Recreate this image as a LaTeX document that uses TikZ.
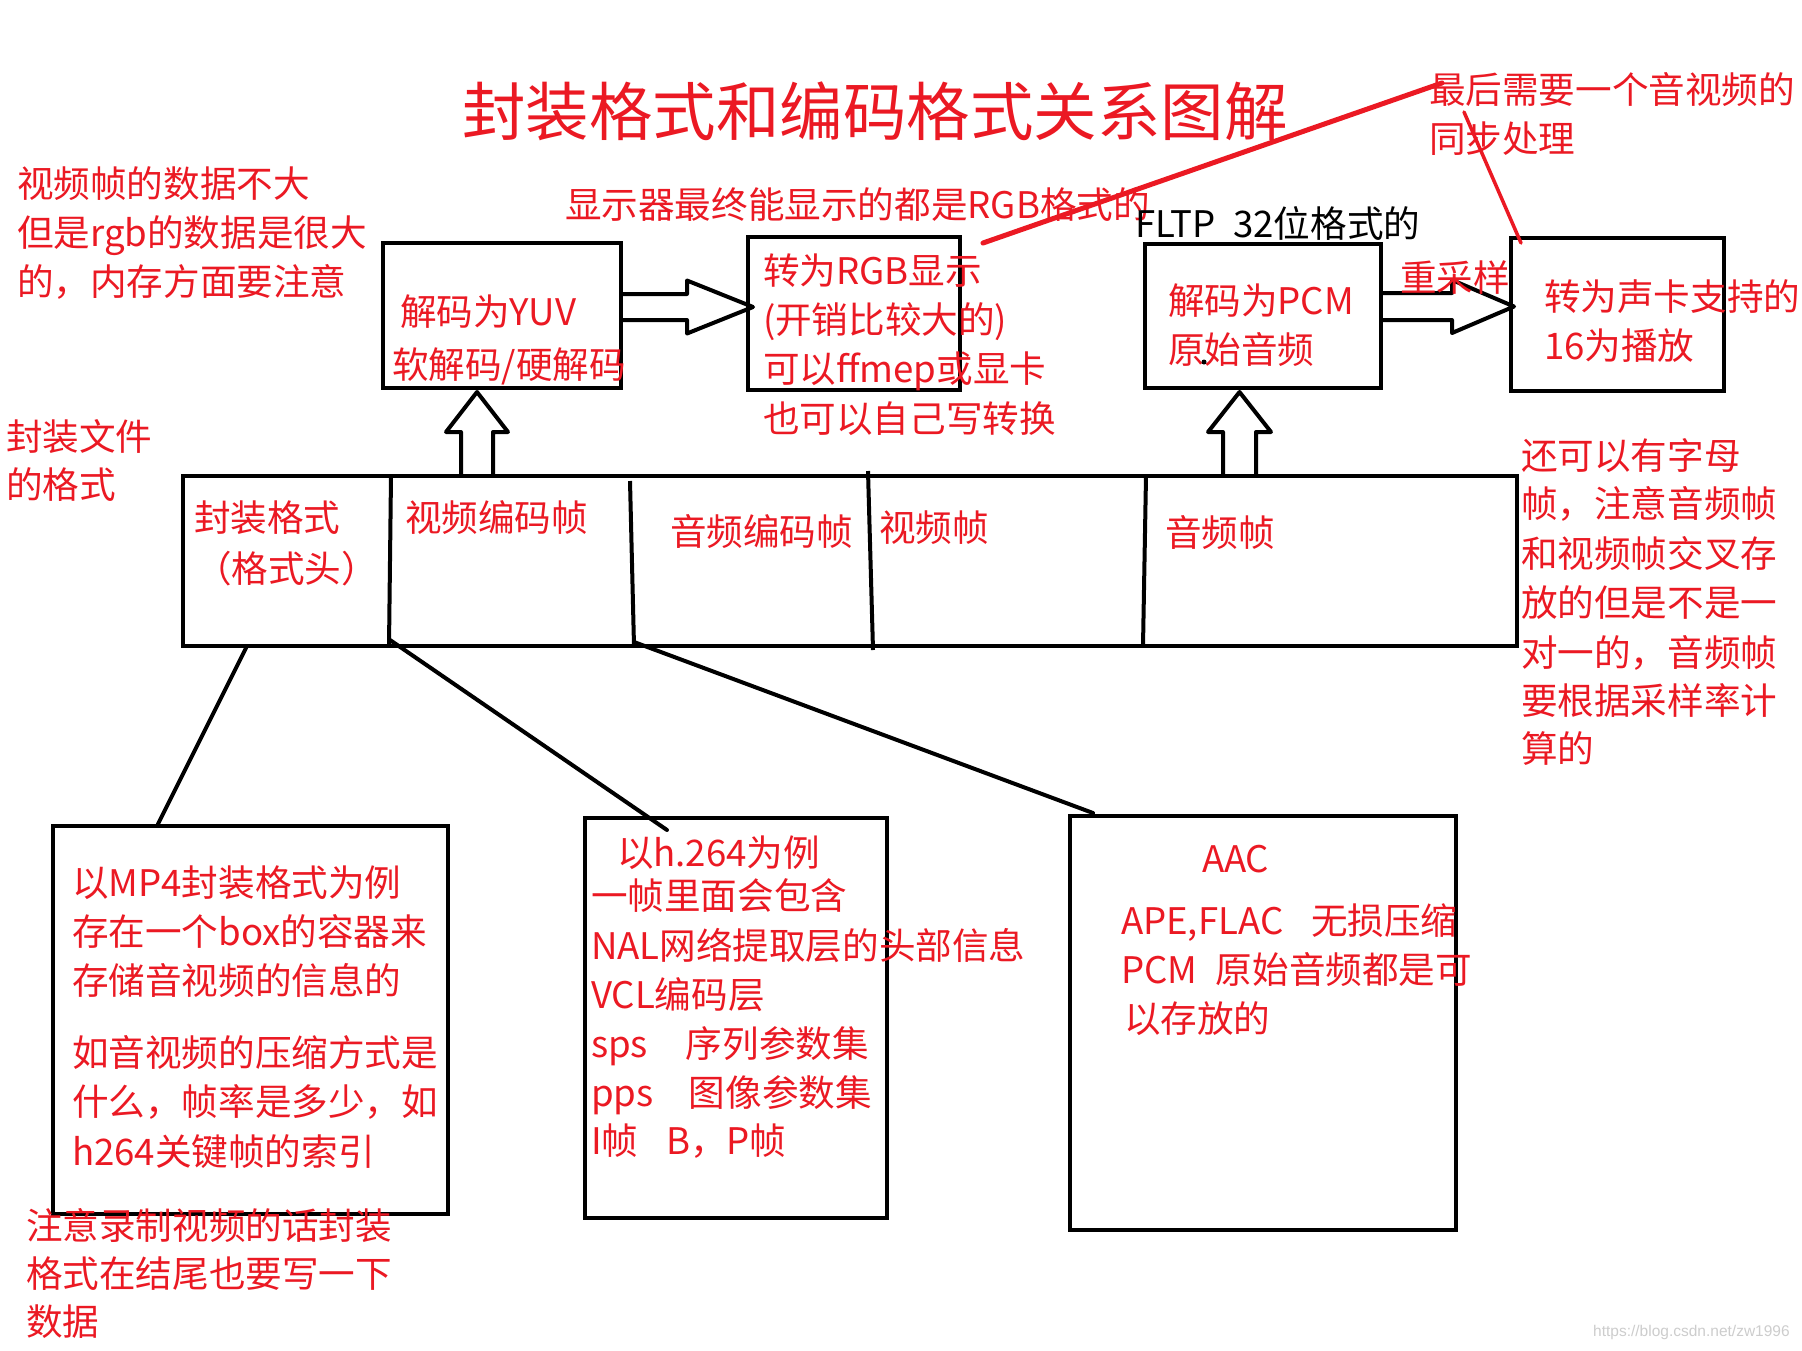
\documentclass[tikz,border=0pt]{standalone}
\usepackage{fontspec}
\newfontfamily\cjk{Noto Sans CJK SC}
\newfontfamily\wmfont{Liberation Sans}
\usetikzlibrary{calc}
\definecolor{mred}{RGB}{235,25,35}
\definecolor{wmgray}{RGB}{205,205,205}
\tikzset{
  box/.style={draw=black, line width=4.5pt, inner sep=0pt, outer sep=0pt},
  txt/.style={anchor=base west, inner sep=0pt, outer sep=0pt, text=mred,
              font=\cjk\fontsize{36.6}{40}\selectfont},
  btxt/.style={txt, text=black},
  titletxt/.style={anchor=base west, inner sep=0pt, text=mred,
              font=\cjk\fontsize{63.5}{70}\selectfont},
  conn/.style={draw=black, line width=4pt, line cap=round},
  divider/.style={draw=black, line width=4pt},
  hollow/.style={draw=black, line width=4pt, line join=round},
  redline/.style={draw=mred, line width=5pt, line cap=round},
  wm/.style={anchor=base west, inner sep=0pt, text=wmgray,
             font=\wmfont\fontsize{15.5}{16}\selectfont}
}
% hollow arrow pointing right: #1 start, #2 tip, #3 shaft half, #4 head half, #5 head length
\newcommand\hollowright[5]{%
  \draw[hollow] ($(#1)+(0,-#3)$) -- ($(#2)+(-#5,-#3)$) -- ($(#2)+(-#5,-#4)$) -- (#2)
    -- ($(#2)+(-#5,#4)$) -- ($(#2)+(-#5,#3)$) -- ($(#1)+(0,#3)$);}
% hollow arrow pointing up (y grows downward here)
\newcommand\hollowup[5]{%
  \draw[hollow] ($(#1)+(-#3,0)$) -- ($(#2)+(-#3,#5)$) -- ($(#2)+(-#4,#5)$) -- (#2)
    -- ($(#2)+(#4,#5)$) -- ($(#2)+(#3,#5)$) -- ($(#1)+(#3,0)$);}
\begin{document}
\begin{tikzpicture}[x=1pt,y=-1pt]
\useasboundingbox (0,0) rectangle (1802,1350);
\fill[white] (0,0) rectangle (1802,1350);

% ---------- boxes ----------
\node[box, minimum width=238pt, minimum height=145pt] (yuv) at (502,315.5) {};
\node[box, minimum width=212pt, minimum height=153pt] (rgb) at (854,313.5) {};
\node[box, minimum width=236pt, minimum height=144pt] (pcm) at (1263,316) {};
\node[box, minimum width=213pt, minimum height=153pt] (snd) at (1617.5,314.5) {};
\node[box, minimum width=1334pt, minimum height=170pt] (bar) at (850,561) {};
\node[box, minimum width=395pt, minimum height=388pt] (mp4) at (250.5,1020) {};
\node[box, minimum width=302pt, minimum height=400pt] (h264) at (736,1018) {};
\node[box, minimum width=386pt, minimum height=414pt] (aac) at (1263,1023) {};

% dividers of the frame bar
\draw[divider] ($(bar.north west)+(208,0)$) -- ($(bar.south west)+(206,0)$);
\draw[divider] ($(bar.north west)+(447,5)$) -- ($(bar.south west)+(451,0)$);
\draw[divider] ($(bar.north west)+(685,-5)$) -- ($(bar.south west)+(690,4)$);
\draw[divider] ($(bar.north west)+(963,0)$) -- ($(bar.south west)+(960,0)$);

% ---------- hollow arrows ----------
\coordinate (ar1s) at ($(yuv.east)+(0,-8.5)$);
\coordinate (ar1t) at ($(rgb.west |- ar1s)+(5,0)$);
\hollowright{ar1s}{ar1t}{13}{26.5}{66}
\coordinate (ar2s) at ($(pcm.east)+(0,-9.5)$);
\coordinate (ar2t) at ($(snd.west |- ar2s)+(3,0)$);
\hollowright{ar2s}{ar2t}{13.5}{26.5}{62}
\coordinate (au1s) at ($(bar.north west)+(294,0)$);
\coordinate (au1t) at ($(yuv.south)+(-25,4)$);
\hollowup{au1s}{au1t}{16}{31}{40}
\coordinate (au2s) at ($(bar.north west)+(1056.5,0)$);
\coordinate (au2t) at ($(pcm.south)+(-23.5,4)$);
\hollowup{au2s}{au2t}{16.5}{31.5}{40}

% ---------- connectors from the bar ----------
\draw[conn] ($(bar.south west)+(64,0)$) -- ($(mp4.north west)+(105,-2)$);
\draw[conn] ($(bar.south west)+(207,-6)$) -- ($(h264.north west)+(82,12)$);
\draw[conn] ($(bar.south west)+(451,-4)$) -- ($(aac.north west)+(23,-3)$);

% ---------- title ----------
\node[titletxt] (title) at (462,135) {封装格式和编码格式关系图解};

% ---------- texts ----------
\node[txt] (n1a) at (17,197) {视频帧的数据不大};
\node[txt] (n1b) at (17,246) {但是rgb的数据是很大};
\node[txt] (n1c) at (17,295) {的，内存方面要注意};

\node[txt] (disp) at (565,218) {显示器最终能显示的都是RGB格式的};

\node[txt] (yuv1) at (400,325) {解码为YUV};
\node[txt] (yuv2) at (392,378) {软解码/硬解码};

\node[txt] (rgb1) at (763,284) {转为RGB显示};
\node[txt] (rgb2) at (763,333) {(开销比较大的)};
\node[txt] (rgb3) at (763,382) {可以ffmep或显卡};
\node[txt] (rgb4) at (763,432) {也可以自己写转换};

\node[txt] (sync1) at (1429,103) {最后需要一个音视频的};
\node[txt] (sync2) at (1429,152) {同步处理};

\node[btxt] (fltp) at (1135,237) {FLTP\hspace{18pt}32位格式的};

\node[txt] (pcm1) at (1168,314) {解码为PCM};
\node[txt] (pcm2) at (1168,363) {原始音频};
\fill (1204,362) circle[radius=2.5];

\node[txt] (resample) at (1400,291) {重采样};

\node[txt] (snd1) at (1544,310) {转为声卡支持的};
\node[txt] (snd2) at (1544,359) {16为播放};

\node[txt] (fmt1) at (6,450) {封装文件};
\node[txt] (fmt2) at (6,498) {的格式};

\node[txt] (barA1) at (194,531) {封装格式};
\node[txt] (barA2) at (195,582) {（格式头）};
\node[txt] (barB) at (405,531) {视频编码帧};
\node[txt] (barC) at (670,545) {音频编码帧};
\node[txt] (barD) at (879,541) {视频帧};
\node[txt] (barE) at (1165,546) {音频帧};

\node[txt] (rn1) at (1521,469) {还可以有字母};
\node[txt] (rn2) at (1521,517) {帧，注意音频帧};
\node[txt] (rn3) at (1521,567) {和视频帧交叉存};
\node[txt] (rn4) at (1521,616) {放的但是不是一};
\node[txt] (rn5) at (1521,666) {对一的，音频帧};
\node[txt] (rn6) at (1521,714) {要根据采样率计};
\node[txt] (rn7) at (1521,762) {算的};

\node[txt] (mp1) at (72,896) {以MP4封装格式为例};
\node[txt] (mp2) at (72,945) {存在一个box的容器来};
\node[txt] (mp3) at (72,994) {存储音视频的信息的};
\node[txt] (mp4a) at (72,1066) {如音视频的压缩方式是};
\node[txt] (mp5) at (72,1115) {什么，帧率是多少，如};
\node[txt] (mp6) at (72,1165) {h264关键帧的索引};

\node[txt] (bn1) at (26,1239) {注意录制视频的话封装};
\node[txt] (bn2) at (26,1287) {格式在结尾也要写一下};
\node[txt] (bn3) at (26,1335) {数据};

\node[txt] (h1) at (617,866) {以h.264为例};
\node[txt] (h2) at (591,909) {一帧里面会包含};
\node[txt] (h3) at (591,959) {NAL网络提取层的头部信息};
\node[txt] (h4) at (591,1008) {VCL编码层};
\node[txt] (h5) at (591,1057) {\makebox[95pt][l]{sps}序列参数集};
\node[txt] (h6) at (591,1106) {\makebox[98pt][l]{pps}图像参数集};
\node[txt] (h7) at (591,1154) {\makebox[75pt][l]{I帧}B，P帧};

\node[txt] (a1) at (1202,872) {AAC};
\node[txt] (a2) at (1121,934) {\makebox[190pt][l]{APE,FLAC}无损压缩};
\node[txt] (a3) at (1121,983) {\makebox[95pt][l]{PCM}原始音频都是可};
\node[txt] (a4) at (1124,1032) {以存放的};

\node[wm] (wmark) at (1593,1336) {https://blog.csdn.net/zw1996};

% ---------- red strokes ----------
\draw[redline] ($(rgb.north east)+(23,6)$) -- ($(sync1.base west)+(13,-20)$);
\draw[redline, line width=3.5pt] ($(sync1.base west)+(35,9)$) -- ($(snd.north west)+(10,5)$);
\end{tikzpicture}
\end{document}
